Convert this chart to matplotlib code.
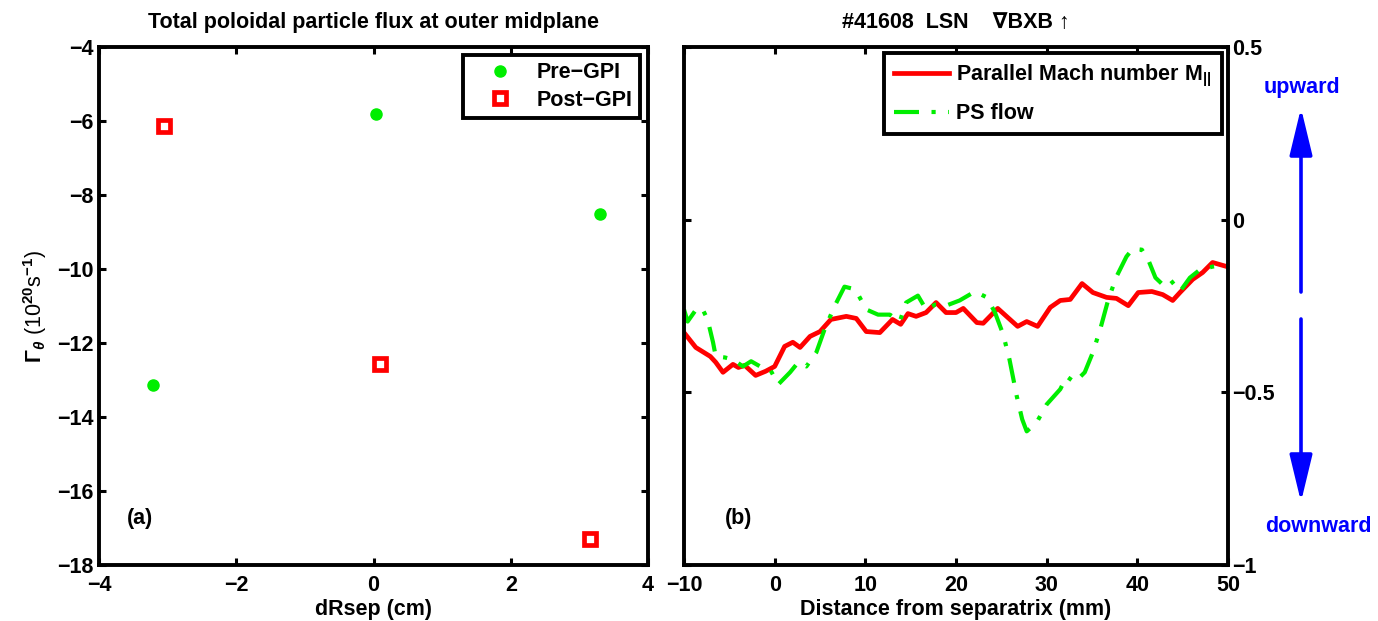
import matplotlib
matplotlib.use("Agg")
import matplotlib.pyplot as plt
import numpy as np

# ---- data ----
pre_x = [-3.21, 0.04, 3.30]
pre_y = [-13.14, -5.80, -8.51]
post_x = [-3.05, 0.09, 3.15]
post_y = [-6.14, -12.57, -17.30]

mach_x = [-10.0, -8.7, -7.1, -6.5, -5.7, -4.6, -4.0, -3.3, -2.1, -1.0, 0.0, 1.1, 2.0, 2.8,
          3.9, 5.0, 6.2, 7.9, 9.0, 10.1, 11.6, 13.0, 13.9, 14.7, 15.6, 16.7, 17.8, 18.9,
          20.0, 20.8, 22.3, 23.0, 24.6, 26.8, 27.8, 29.0, 30.4, 31.5, 32.6, 33.9, 35.1,
          36.6, 37.7, 39.0, 40.1, 41.6, 42.8, 43.9, 44.7, 46.1, 47.2, 48.3, 49.9]
mach_y = [-0.327, -0.370, -0.396, -0.413, -0.442, -0.419, -0.428, -0.422, -0.451, -0.439,
          -0.425, -0.367, -0.355, -0.370, -0.338, -0.324, -0.289, -0.280, -0.286, -0.324,
          -0.327, -0.289, -0.303, -0.272, -0.280, -0.269, -0.240, -0.269, -0.269, -0.257,
          -0.298, -0.300, -0.257, -0.309, -0.295, -0.309, -0.254, -0.234, -0.231, -0.185,
          -0.211, -0.225, -0.228, -0.249, -0.211, -0.208, -0.217, -0.234, -0.211, -0.173,
          -0.153, -0.124, -0.136]

ps_x = [-10.0, -9.6, -8.5, -7.9, -7.4, -6.8, -6.5, -5.5, -4.6, -3.5, -2.6, -1.6, -0.5, 0.4,
        1.7, 2.6, 3.5, 4.6, 5.5, 6.6, 7.7, 8.9, 10.1, 11.4, 12.7, 13.8, 14.5, 15.8, 16.7,
        17.7, 18.9, 20.4, 22.1, 23.4, 24.3, 25.2, 25.9, 26.7, 27.3, 27.8, 28.9, 30.0, 31.5,
        32.2, 33.1, 34.2, 35.1, 35.9, 36.8, 37.7, 38.8, 39.5, 40.5, 41.2, 42.0, 42.8, 43.6,
        44.7, 45.8, 46.9, 48.3, 49.9]
ps_y = [-0.260, -0.295, -0.254, -0.262, -0.289, -0.355, -0.396, -0.399, -0.405, -0.425,
        -0.410, -0.425, -0.434, -0.477, -0.442, -0.413, -0.425, -0.384, -0.318, -0.251,
        -0.194, -0.202, -0.260, -0.275, -0.275, -0.295, -0.240, -0.220, -0.260, -0.246,
        -0.249, -0.234, -0.208, -0.225, -0.269, -0.332, -0.405, -0.511, -0.578, -0.613,
        -0.587, -0.535, -0.491, -0.454, -0.471, -0.442, -0.384, -0.318, -0.231, -0.165,
        -0.107, -0.084, -0.087, -0.116, -0.168, -0.188, -0.173, -0.208, -0.168, -0.145,
        -0.136, -0.130]

left_xticks = [-4, -2, 0, 2, 4]
left_yticks = [-18, -16, -14, -12, -10, -8, -6, -4]
right_xticks = [-10, 0, 10, 20, 30, 40, 50]
right_yticks = [-1, -0.5, 0, 0.5]
right_yticklabels = ["\u22121", "\u22120.5", "0", "0.5"]

# ---- style ----
FONT = ['Liberation Sans', 'DejaVu Sans']
plt.rcParams['font.family'] = FONT
plt.rcParams['font.weight'] = 'bold'
plt.rcParams['axes.unicode_minus'] = True
plt.rcParams['mathtext.fontset'] = 'custom'
plt.rcParams['mathtext.rm'] = 'Liberation Sans'
plt.rcParams['mathtext.it'] = 'Liberation Sans:italic'
plt.rcParams['mathtext.bf'] = 'Liberation Sans:bold'

W, H = 1378, 621
fig = plt.figure(figsize=(W / 100, H / 100), dpi=100)

def rect(l, t, r, b):
    return [l / W, 1 - b / H, (r - l) / W, (b - t) / H]

FS = 15.5
GREEN = '#00ee00'
RED = '#ff0000'

def style_axes(ax):
    for s in ax.spines.values():
        s.set_linewidth(2.8)
    ax.tick_params(direction='in', length=5, width=2.2, labelsize=FS,
                   top=True, right=True, pad=4)
    ax.tick_params(axis='x', pad=7)
    for lab in ax.get_xticklabels() + ax.get_yticklabels():
        lab.set_fontweight('bold')

# ---- left panel ----
ax1 = fig.add_axes(rect(99, 47, 648, 565))
ax1.plot(pre_x, pre_y, 'o', color=GREEN, markersize=8, label='Pre\u2212GPI', linestyle='none')
ax1.plot(post_x, post_y, 's', markerfacecolor='white', markeredgecolor=RED,
         markeredgewidth=3.4, markersize=8, label='Post\u2212GPI', linestyle='none')
ax1.set_xlim(-4, 4)
ax1.set_ylim(-18, -4)
ax1.set_xticks(left_xticks)
ax1.set_yticks(left_yticks)
style_axes(ax1)
ax1.set_title('Total poloidal particle flux at outer midplane', fontsize=FS,
              fontweight='bold', pad=14)
ax1.set_xlabel('dRsep (cm)', fontsize=FS, fontweight='bold', labelpad=2)
ax1.set_ylabel(r'$\Gamma_{\theta}$ (10$^{20}$s$^{-1}$)', fontsize=FS, fontweight='normal',
               labelpad=6)
ax1.text(0.05, 0.08, '(a)', transform=ax1.transAxes, fontsize=FS, fontweight='bold')
leg1 = ax1.legend(loc='upper right', fontsize=FS, frameon=True, fancybox=False,
                  borderaxespad=0.35, handletextpad=0.3, borderpad=0.35,
                  handlelength=2.8, labelspacing=0.3, numpoints=1)
leg1.get_frame().set_edgecolor('black')
leg1.get_frame().set_linewidth(2.8)
leg1.get_frame().set_alpha(1)
for t in leg1.get_texts():
    t.set_fontweight('bold')

# ---- right panel ----
ax2 = fig.add_axes(rect(684, 47, 1228, 565))
ax2.plot(mach_x, mach_y, '-', color=RED, linewidth=3.4, label=r'Parallel Mach number M$_{||}$')
ax2.plot(ps_x, ps_y, '-.', color=GREEN, linewidth=3.0, label='PS flow',
         dashes=(6, 3, 1, 3))
ax2.set_xlim(-10, 50)
ax2.set_ylim(-1, 0.5)
ax2.set_xticks(right_xticks)
ax2.set_yticks(right_yticks)
ax2.set_yticklabels(right_yticklabels)
style_axes(ax2)
ax2.tick_params(axis='y', labelleft=False, labelright=True, left=True, right=True, pad=3)
ax2.set_title('#41608  LSN    \u2207BXB \u2191', fontsize=FS, fontweight='bold', pad=14)
ax2.set_xlabel('Distance from separatrix (mm)', fontsize=FS, fontweight='bold', labelpad=2)
ax2.text(0.075, 0.08, '(b)', transform=ax2.transAxes, fontsize=FS, fontweight='bold')
leg2 = ax2.legend(loc='upper right', fontsize=FS, frameon=True, fancybox=False,
                  borderaxespad=0.3, handletextpad=0.35, borderpad=0.45,
                  handlelength=2.55, labelspacing=0.65)
leg2.get_frame().set_edgecolor('black')
leg2.get_frame().set_linewidth(2.8)
leg2.get_frame().set_alpha(1)
for t in leg2.get_texts():
    t.set_fontweight('bold')

# ---- direction arrows ----
BLUE = '#0000ff'
def fpx(x, y):
    return (x / W, 1 - y / H)

AX = 1301
for y0, y1 in [(292, 108), (319, 502)]:
    fig.add_artist(matplotlib.patches.FancyArrowPatch(
        fpx(AX, y0), fpx(AX, y1), transform=fig.transFigure,
        arrowstyle='-|>,head_length=29,head_width=7', color=BLUE, linewidth=2.6,
        shrinkA=0, shrinkB=0, mutation_scale=1))
fig.text(*fpx(1302, 87), 'upward', color=BLUE, fontsize=FS, fontweight='bold',
         ha='center', va='center')
fig.text(*fpx(1318, 526), 'downward', color=BLUE, fontsize=FS, fontweight='bold',
         ha='center', va='center')

fig.savefig('out.png', dpi=100)
